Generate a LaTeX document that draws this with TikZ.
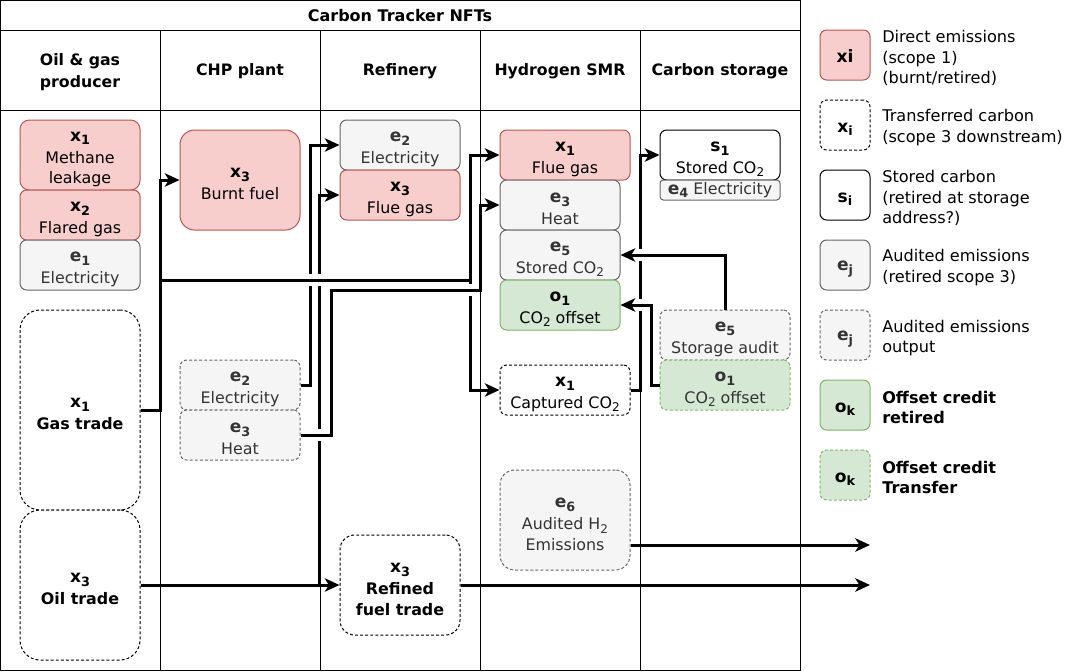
\documentclass[tikz,border=0pt]{standalone}
\usepackage{fontspec}
\setmainfont{DejaVu Sans}
\usetikzlibrary{arrows.meta,calc}
\definecolor{redf}{HTML}{F8CECC}
\definecolor{redd}{HTML}{B85450}
\definecolor{grayf}{HTML}{F5F5F5}
\definecolor{grayd}{HTML}{666666}
\definecolor{grayt}{HTML}{333333}
\definecolor{greenf}{HTML}{D5E8D4}
\definecolor{greend}{HTML}{82B366}
\newcommand\lowsub[1]{\raisebox{-0.4ex}{\fontsize{9}{9}\selectfont #1}}
\newcommand\labnostrut[2]{{\fontsize{12.8}{15.5}\selectfont\bfseries #1\raisebox{-0.4ex}{\fontsize{9.6}{9.6}\selectfont #2}}}
\newcommand\lab[2]{\rule{0pt}{13.5pt}\labnostrut{#1}{#2}}
\begin{document}
\begin{tikzpicture}[x=0.75pt,y=-0.75pt,
  box/.style={rounded corners=5pt, minimum width=90pt, minimum height=37.5pt, inner sep=0pt, line width=0.75pt, align=center, font=\fontsize{11.9}{15.5}\selectfont},
  redbox/.style={box, fill=redf, draw=redd},
  graybox/.style={box, fill=grayf, draw=grayd, text=grayt},
  greenbox/.style={box, fill=greenf, draw=greend},
  whitebox/.style={box, fill=white, draw=black},
  dsh/.style={dash pattern=on 2.2pt off 1.6pt},
  conn/.style={line width=2.25pt, -{Stealth[length=11pt,width=10pt,inset=3pt]}},
  gapw/.style={draw=white, line width=4pt},
  hdr/.style={font=\bfseries\fontsize{11.8}{16.5}\selectfont, align=center},
  leg/.style={anchor=west, align=left, inner sep=0pt, font=\fontsize{12.1}{15.4}\selectfont},
  legb/.style={leg, font=\bfseries\fontsize{12.1}{15.4}\selectfont},
  legbox/.style={minimum width=37.5pt, minimum height=37.5pt},
  gridln/.style={line width=0.75pt}
]
\useasboundingbox (0,0) rectangle (1081,671);
% frame
\draw[gridln] (0.5,0.5) rectangle (800,670);
\draw[gridln] (0,30) -- (800,30);
\draw[gridln] (0,110) -- (800,110);
\foreach \x in {160,320,480,640} \draw[gridln] (\x,30) -- (\x,670);
\node[font=\bfseries\fontsize{12}{14}\selectfont] (title) at (400,16) {Carbon Tracker NFTs};
\node[hdr] (h1) at (80,72) {Oil \& gas\\producer};
\node[hdr] (h2) at (240,71) {CHP plant};
\node[hdr] (h3) at (400,71) {Refinery};
\node[hdr] (h4) at (560,71) {Hydrogen SMR};
\node[hdr] (h5) at (720,71) {Carbon storage};
% column 1
\node[redbox, minimum height=52.5pt, rounded corners=7pt] (mx1) at (80,155) {\lab{x}{1}\\[1pt]Methane\\leakage};
\node[redbox] (mx2) at (80,215) {\lab{x}{2}\\[1pt]Flared gas};
\node[graybox] (me1) at (80,265) {\lab{e}{1}\\[1pt]Electricity};
\node[whitebox, dsh, minimum height=150pt, rounded corners=15pt] (gas) at (80,410) {\lab{x}{1}\\[1pt]\textbf{Gas trade}};
\node[whitebox, dsh, minimum height=112.5pt, rounded corners=15pt] (oil) at (80,585) {\lab{x}{3}\\[1pt]\textbf{Oil trade}};
% column 2
\node[redbox, minimum height=75pt, rounded corners=11pt] (burnt) at (240,180) {\lab{x}{3}\\[1pt]Burnt fuel};
\node[graybox, dsh] (e2c) at (240,385) {\lab{e}{2}\\[1pt]Electricity};
\node[graybox, dsh] (e3c) at (240,435) {\lab{e}{3}\\[1pt]Heat};
% column 3
\node[graybox] (e2r) at (400,145) {\lab{e}{2}\\[1pt]Electricity};
\node[redbox] (x3f) at (400,195) {\lab{x}{3}\\[1pt]Flue gas};
\node[whitebox, dsh, minimum height=75pt, rounded corners=11pt] (refined) at (400,585) {\lab{x}{3}\\[1pt]\textbf{Refined}\\\textbf{fuel trade}};
% column 4
\node[redbox, minimum width=97.5pt] (sx1) at (565,155) {\lab{x}{1}\\[1pt]Flue gas};
\node[graybox] (sheat) at (560,205) {\lab{e}{3}\\[1pt]Heat};
\node[graybox] (se5) at (560,255) {\lab{e}{5}\\[1pt]Stored CO\lowsub{2}};
\node[greenbox] (so1) at (560,305) {\lab{o}{1}\\[1pt]CO\lowsub{2} offset};
\node[whitebox, dsh, minimum width=97.5pt] (capt) at (565,390) {\lab{x}{1}\\[1pt]Captured CO\lowsub{2}};
\node[graybox, dsh, minimum width=97.5pt, minimum height=75pt, rounded corners=11pt] (e6) at (565,520) {\lab{e}{6}\\[1pt]Audited H\lowsub{2}\\Emissions};
% column 5
\node[whitebox] (s1) at (720,155) {\lab{s}{1}\\[1pt]Stored CO\lowsub{2}};
\node[graybox, minimum height=15pt, rounded corners=2.5pt] (e4) at (720,190) {\labnostrut{e}{4} Electricity};
\node[graybox, dsh, minimum width=97.5pt] (e5a) at (725,335) {\lab{e}{5}\\[1pt]Storage audit};
\node[greenbox, dsh, minimum width=97.5pt, text=grayt] (o1b) at (725,385) {\lab{o}{1}\\[1pt]CO\lowsub{2} offset};
% legend
\node[redbox, legbox] (l1) at (845,55) {\lab{xi}{}};
\node[leg] (t1) at (882,58) {Direct emissions\\(scope 1)\\(burnt/retired)};
\node[whitebox, dsh, legbox] (l2) at (845,125) {\lab{x}{i}};
\node[leg] (t2) at (882,127.5) {Transferred carbon\\(scope 3 downstream)};
\node[whitebox, legbox] (l3) at (845,195) {\lab{s}{i}};
\node[leg] (t3) at (882,198) {Stored carbon\\(retired at storage\\address?)};
\node[graybox, legbox] (l4) at (845,265) {\lab{e}{j}};
\node[leg] (t4) at (882,267.5) {Audited emissions\\(retired scope 3)};
\node[graybox, dsh, legbox] (l5) at (845,335) {\lab{e}{j}};
\node[leg] (t5) at (882,338) {Audited emissions\\output};
\node[greenbox, legbox] (l6) at (845,405) {\lab{o}{k}};
\node[legb] (t6) at (882,407.5) {Offset credit\\retired};
\node[greenbox, dsh, legbox] (l7) at (845,475) {\lab{o}{k}};
\node[legb] (t7) at (882,477.5) {Offset credit\\Transfer};
% coordinates
\coordinate (j1) at (160,280);
\coordinate (j2) at (470,280);
\coordinate (out1) at (870,585);
\coordinate (out2) at (870,545);
% connectors drawn underneath
\draw[conn] (e2c.east) -- ++(10,0) |- (e2r.west);
\draw[conn] (oil.east) -| ($(x3f.west)+(-20,0)$) -- (x3f.west);
\draw[conn] (gas.east) -| (j1) -- (j2) |- (capt.west);
\draw[conn] (capt.east) -- ++(10,0) |- (s1.west);
% line jumps
\draw[gapw] (310,274) -- (310,286);
\draw[gapw] (320,274) -- (320,286);
\draw[gapw] (320,429) -- (320,441);
\draw[gapw] (470,284) -- (470,296);
\draw[gapw] (640,249) -- (640,261);
\draw[gapw] (640,299) -- (640,311);
% connectors on top
\draw[conn] (gas.east) -| (j1) |- (burnt.west);
\draw[conn] (gas.east) -| (j1) -- (j2) |- (sx1.west);
\draw[conn] (e3c.east) -| (331,290) -| ($(sheat.west)+(-19,0)$) -- (sheat.west);
\draw[conn] (e5a.north) |- (se5.east);
\draw[conn] (o1b.west) -- ++(-8,0) |- (so1.east);
\draw[conn] (oil.east) -- (refined.west);
\draw[conn] (refined.east) -- (out1);
\draw[conn] (e6.east |- out2) -- (out2);
\end{tikzpicture}
\end{document}
